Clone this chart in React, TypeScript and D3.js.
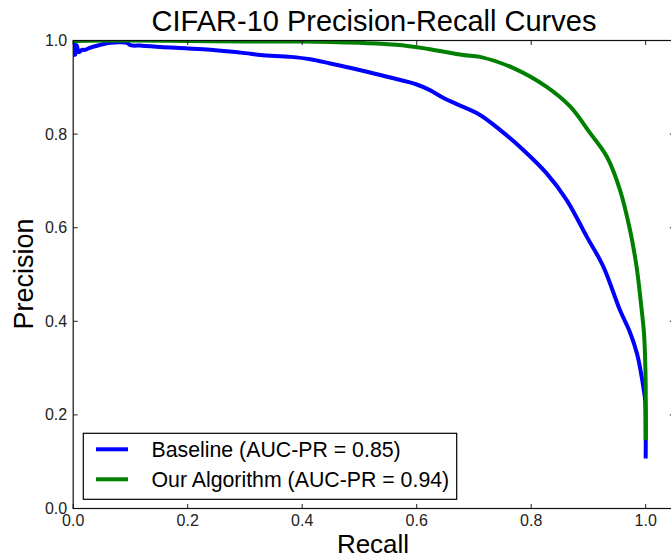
import React from "react";
import * as d3 from "d3";

const recallBaseline = [0, 0.002, 0.004, 0.006, 0.01, 0.015, 0.02, 0.03, 0.045, 0.065, 0.08, 0.094, 0.1, 0.12, 0.152, 0.2, 0.24, 0.3, 0.327, 0.38, 0.414, 0.449, 0.5, 0.55, 0.6, 0.623, 0.647, 0.67, 0.7106, 0.7455, 0.7862, 0.827, 0.862, 0.897, 0.926, 0.955, 0.973, 0.985, 0.993, 0.997, 0.999, 1.0, 1.0];
const precisionBaseline = [0.965, 0.995, 0.97, 0.99, 0.975, 0.98, 0.98, 0.985, 0.99, 0.995, 0.996, 0.995, 0.99, 0.989, 0.986, 0.983, 0.98, 0.973, 0.969, 0.965, 0.96, 0.951, 0.937, 0.922, 0.906, 0.894, 0.877, 0.864, 0.841, 0.809, 0.766, 0.716, 0.659, 0.581, 0.517, 0.424, 0.375, 0.33, 0.281, 0.25, 0.232, 0.17, 0.107];

const recallOurs = [0, 0.05, 0.1, 0.2, 0.3, 0.4, 0.449, 0.5, 0.565, 0.62, 0.681, 0.7106, 0.769, 0.827, 0.868, 0.903, 0.932, 0.955, 0.9726, 0.984, 0.993, 0.997, 0.999, 1.0, 1.0];
const precisionOurs = [0.999, 1.0, 1.0, 0.999, 0.998, 0.998, 0.997, 0.995, 0.991, 0.982, 0.969, 0.965, 0.941, 0.901, 0.859, 0.802, 0.752, 0.681, 0.595, 0.517, 0.424, 0.375, 0.32, 0.26, 0.146];

const seriesNames = ["Baseline (AUC-PR = 0.85)", "Our Algorithm (AUC-PR = 0.94)"];
const seriesColors = ["#0000ff", "#008000"];
const tickValues = [0, 0.2, 0.4, 0.6, 0.8, 1.0];

const W = 671, H = 557;
const left = 73.2, top = 40.5, bottom = 508.5;
const xScale = d3.scaleLinear().domain([0, 1.05]).range([left, left + 572.5 * 1.05]);
const yScale = d3.scaleLinear().domain([0, 1]).range([bottom, top]);
const right = xScale(1.05);

const font = "'Liberation Sans', Arial, sans-serif";

export default function App() {
  const line = d3.line<[number, number]>().x(d => xScale(d[0])).y(d => yScale(d[1])).curve(d3.curveCatmullRom.alpha(0.5));
  const series = [
    recallBaseline.map((r, i) => [r, precisionBaseline[i]] as [number, number]),
    recallOurs.map((r, i) => [r, precisionOurs[i]] as [number, number]),
  ];
  const tl = 4.5;
  return (
    <svg width={W} height={H} style={{ position: "absolute", left: 0, top: 0, background: "#fff" }} fontFamily={font}>
      <defs>
        <clipPath id="plotclip">
          <rect x={left} y={top} width={right - left} height={bottom - top} />
        </clipPath>
      </defs>
      <rect x={0} y={0} width={W} height={H} fill="#fff" />
      <g clipPath="url(#plotclip)">
        {series.map((s, i) => (
          <path key={i} d={line(s) || ""} fill="none" stroke={seriesColors[i]} strokeWidth={4} strokeLinejoin="round" strokeLinecap="butt" />
        ))}
      </g>
      <g stroke="#222" strokeWidth={1}>
        {tickValues.map(t => (
          <g key={"x" + t}>
            <line x1={xScale(t)} x2={xScale(t)} y1={bottom} y2={bottom - tl} />
            <line x1={xScale(t)} x2={xScale(t)} y1={top} y2={top + tl} />
          </g>
        ))}
        {tickValues.map(t => (
          <g key={"y" + t}>
            <line x1={left} x2={left + tl} y1={yScale(t)} y2={yScale(t)} />
            <line x1={right} x2={right - tl} y1={yScale(t)} y2={yScale(t)} />
          </g>
        ))}
      </g>
      <rect x={left} y={top} width={right - left} height={bottom - top} fill="none" stroke="#111" strokeWidth={1.2} />
      <g fontSize={16} fill="#222">
        {tickValues.map(t => (
          <text key={"xl" + t} x={xScale(t)} y={bottom + 17.5} textAnchor="middle">{t.toFixed(1)}</text>
        ))}
        {tickValues.map(t => (
          <text key={"yl" + t} x={left - 6} y={yScale(t) + 5.5} textAnchor="end">{t.toFixed(1)}</text>
        ))}
      </g>
      <text x={374} y={31} textAnchor="middle" fontSize={29} fill="#000">CIFAR-10 Precision-Recall Curves</text>
      <text x={373} y={553} textAnchor="middle" fontSize={26} fill="#000">Recall</text>
      <text transform={`translate(33,${274}) rotate(-90)`} textAnchor="middle" fontSize={27} fill="#000">Precision</text>
      <g>
        <rect x={83.3} y={433.3} width={373.4} height={66} fill="#fff" stroke="#000" strokeWidth={1.2} />
        {seriesNames.map((name, i) => (
          <g key={name}>
            <line x1={96} x2={128} y1={449.3 + i * 30} y2={449.3 + i * 30} stroke={seriesColors[i]} strokeWidth={4} />
            <text x={151.5} y={449.3 + i * 30 + 7.5} fontSize={21.3} fill="#000">{name}</text>
          </g>
        ))}
      </g>
    </svg>
  );
}
